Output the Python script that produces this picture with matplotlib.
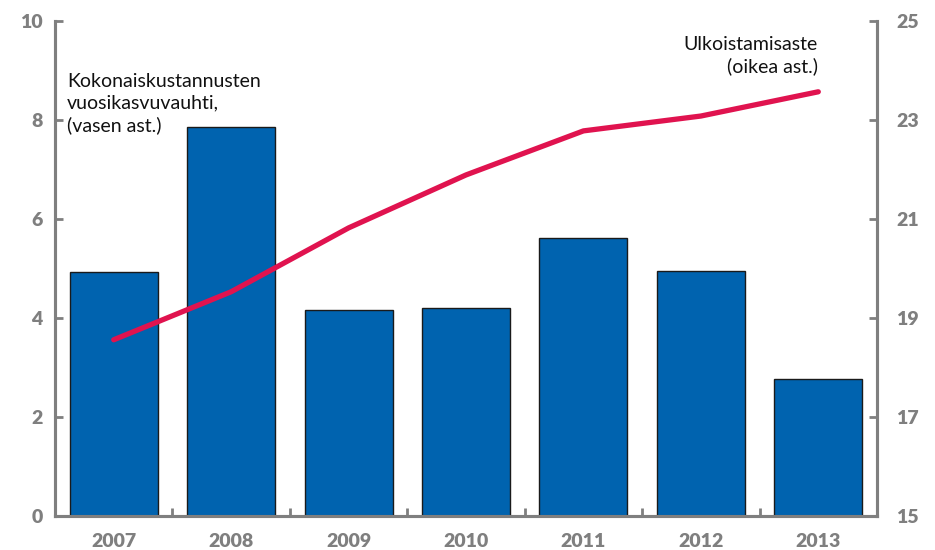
import matplotlib
matplotlib.use("Agg")
import matplotlib.pyplot as plt
import numpy as np

plt.rcParams['font.family'] = ['Lato', 'DejaVu Sans']

years = ["2007", "2008", "2009", "2010", "2011", "2012", "2013"]
growth = [4.93, 7.86, 4.16, 4.20, 5.62, 4.95, 2.77]
outsourcing = [18.56, 19.53, 20.82, 21.89, 22.78, 23.08, 23.57]
left_ticks = [0, 2, 4, 6, 8, 10]
right_ticks = [15, 17, 19, 21, 23, 25]

gray = "#7f7f7f"
fig = plt.figure(figsize=(9.35, 5.5), dpi=100)
ax = fig.add_axes([55/935, 34/550, 822/935, 495/550])
x = np.arange(len(years))
ax.bar(x, growth, width=0.75, color="#0063AF", edgecolor="#1a1a1a", linewidth=1.0, zorder=2)
ax.set_xlim(-0.5, len(years) - 0.5)
ax.set_ylim(0, 10)
ax.set_yticks(left_ticks)
ax.set_xticks(x)
ax.set_xticklabels(years)
ax.set_xticks(np.arange(len(years) + 1)[1:-1] - 0.5, minor=True)

ax2 = ax.twinx()
ax2.plot(x, outsourcing, color="#E0134F", linewidth=3.8, solid_capstyle="round", zorder=3)
ax2.set_ylim(15, 25)
ax2.set_yticks(right_ticks)

for a in (ax, ax2):
    for s in a.spines.values():
        s.set_color(gray)
        s.set_linewidth(2.2)
    a.spines['top'].set_visible(False)

ax.tick_params(axis='y', direction='in', length=6, width=2, color=gray, labelcolor=gray,
               labelsize=14, pad=9)
ax.tick_params(axis='x', which='major', length=0, labelcolor=gray, labelsize=14, pad=12)
ax.tick_params(axis='x', which='minor', direction='in', length=6, width=2, color=gray)
ax2.tick_params(axis='y', direction='in', length=6, width=2, color=gray, labelcolor=gray,
                labelsize=14, pad=14)
for lbl in ax.get_yticklabels() + ax.get_xticklabels() + ax2.get_yticklabels():
    lbl.set_fontweight('heavy')

ax.text(0.0146, 0.895, "Kokonaiskustannusten\nvuosikasvuvauhti,\n(vasen ast.)",
        transform=ax.transAxes, ha='left', va='top', fontsize=14, color="#111111",
        linespacing=1.32)
ax2.text(0.928, 0.97, "Ulkoistamisaste\n(oikea ast.)",
         transform=ax.transAxes, ha='right', va='top', fontsize=14, color="#111111",
         linespacing=1.32, multialignment='right')

fig.savefig("out.png", dpi=100)
